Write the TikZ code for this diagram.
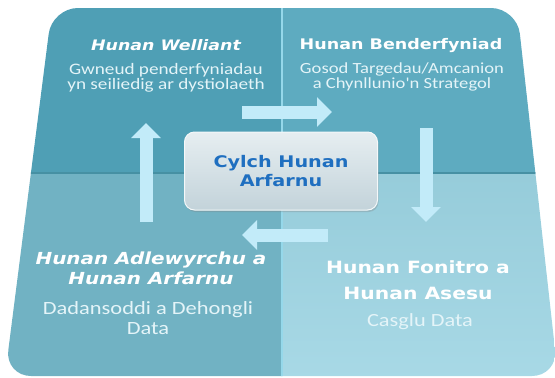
\documentclass[tikz,border=0pt]{standalone}
\usepackage{fontspec}
\setmainfont{Carlito}
\newfontfamily\titre{DejaVu Sans}
\newfontfamily\titrelarge[FakeStretch=1.2]{DejaVu Sans}
\newfontfamily\souslarge[FakeStretch=1.2]{Carlito}
\usetikzlibrary{arrows.meta,positioning,calc,shadows}
\definecolor{tuilehg}{HTML}{4F9FB5}
\definecolor{tuilehd}{HTML}{5EABC0}
\definecolor{tuilebg}{HTML}{71B2C3}
\definecolor{tuilebd}{HTML}{96CCDA}
\definecolor{tuilebdclair}{HTML}{A8D9E6}
\definecolor{arete}{HTML}{4690A3}
\definecolor{filet}{HTML}{95D8EA}
\definecolor{fleche}{HTML}{C2EBF9}
\definecolor{texteclair}{HTML}{E4F4F8}
\definecolor{bleutitre}{HTML}{1F6FC0}
\definecolor{boitehaut}{HTML}{E6EEF1}
\definecolor{boitebas}{HTML}{C3D3DA}
\tikzset{
  titrecase/.style={text=white,font=\titrelarge\bfseries\fontsize{14.6}{16}\selectfont,align=center,inner sep=0pt},
  soustitre/.style={text=texteclair,font=\souslarge\fontsize{16}{15}\selectfont,align=center,inner sep=0pt},
  flechebloc/.style={line width=13pt,draw=fleche,-{Triangle[width=29pt,length=15pt]}},
}
\begin{document}
\begin{tikzpicture}[x=1pt,y=-1pt,
  centrebox/.style={rounded corners=10pt,draw=white!60!boitehaut,line width=1pt,top color=boitehaut,
                    bottom color=boitebas,minimum width=193pt,minimum height=78pt,
                    text=bleutitre,font=\titrelarge\bfseries\fontsize{16}{19}\selectfont,align=center,
                    drop shadow={opacity=0.3,shadow xshift=1pt,shadow yshift=-2pt}}]
  \useasboundingbox (0,0) rectangle (555,378);
  % les quatre tuiles
  \begin{scope}
    \clip[rounded corners=26pt] (52,8) -- (517,8) -- (558,376) -- (5,376) -- cycle;
    \fill[tuilehg] (0,0) rectangle (282,174);
    \fill[tuilehd] (282,0) rectangle (560,174);
    \fill[tuilebg] (0,174) rectangle (282,380);
    \shade[top color=tuilebd,bottom color=tuilebdclair] (282,174) rectangle (560,380);
    \draw[filet,line width=1.2pt] (282,0) -- (282,380);
    \draw[arete,line width=1.5pt] (0,173) -- (560,173);
  \end{scope}

  \node[centrebox] (centre) at (281,171) {Cylch Hunan\\Arfarnu};

  \node[titrecase,font=\titrelarge\bfseries\itshape\fontsize{14.5}{16}\selectfont] (welliant) at (166,45) {Hunan Welliant};
  \node[soustitre] (wellsous) at (166,78) {Gwneud penderfyniadau\\yn seiliedig ar dystiolaeth};
  \node[titrecase] (bender) at (401,46) {Hunan Benderfyniad};
  \node[soustitre,font=\souslarge\fontsize{15.5}{15}\selectfont] (bendersous) at (402,77) {Gosod Targedau/Amcanion\\a Chynllunio'n Strategol};
  \node[titrecase,font=\titrelarge\bfseries\itshape\fontsize{16.6}{20}\selectfont] (adlew) at (151,268) {Hunan Adlewyrchu a\\Hunan Arfarnu};
  \node[soustitre,font=\souslarge\fontsize{18.7}{20}\selectfont] (adlewsous) at (148,318) {Dadansoddi a Dehongli\\Data};
  \node[titrecase,font=\titrelarge\bfseries\fontsize{16.9}{26}\selectfont] (fonitro) at (418,280) {Hunan Fonitro a\\Hunan Asesu};
  \node[soustitre,font=\souslarge\fontsize{18.6}{20}\selectfont] (fonitrosous) at (420,322) {Casglu Data};

  % les fleches du cycle
  \coordinate (f1a) at (242,112);  \coordinate (f1b) at (332,112);
  \coordinate (f2a) at (426,128);  \coordinate (f2b) at (426,222);
  \coordinate (f3a) at (328,235);  \coordinate (f3b) at (242,235);
  \coordinate (f4a) at (146,222);  \coordinate (f4b) at (146,123);
  \foreach \u/\v in {f1a/f1b,f2a/f2b,f3a/f3b,f4a/f4b} \draw[flechebloc] (\u) -- (\v);
\end{tikzpicture}
\end{document}
